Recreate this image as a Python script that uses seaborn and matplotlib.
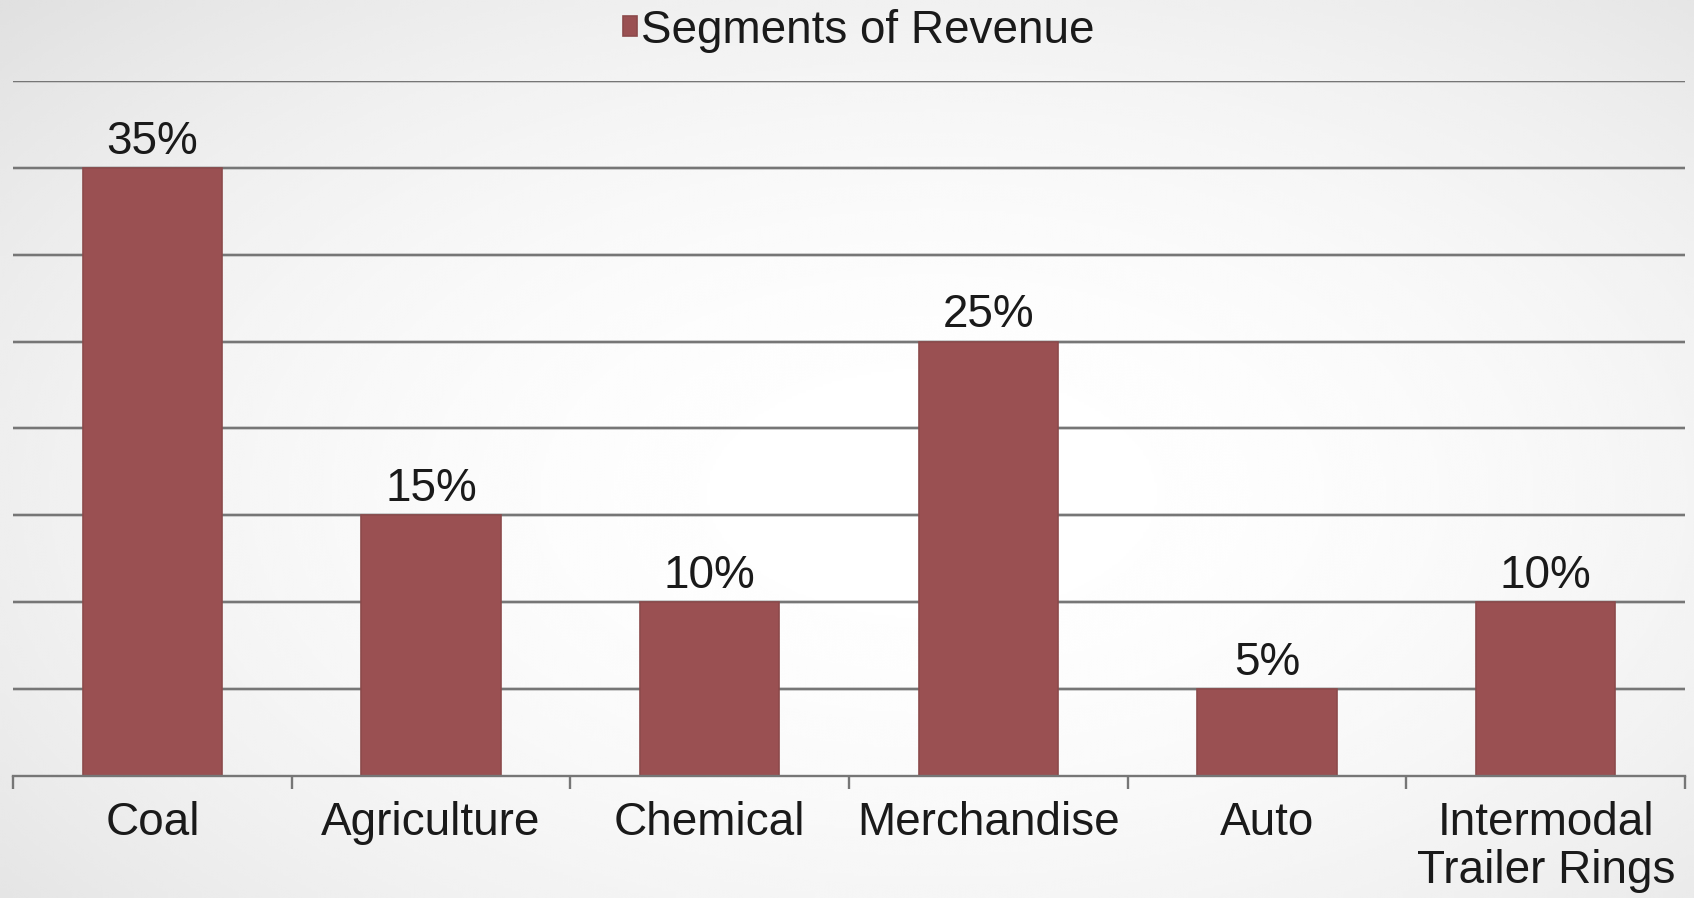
import numpy as np
import pandas as pd
import matplotlib
matplotlib.use("Agg")
import matplotlib.pyplot as plt
import seaborn as sns

categories = ["Coal", "Agriculture", "Chemical", "Merchandise", "Auto",
              "Intermodal\nTrailer Rings"]
revenue_share = [35, 15, 10, 25, 5, 10]
series_name = "Segments of Revenue"
y_ticks = [0, 5, 10, 15, 20, 25, 30, 35, 40]

bar_color = "#9a5052"
grid_color = "#767676"

sns.set_theme(style="white")
plt.rcParams["font.family"] = ["Liberation Sans", "DejaVu Sans"]

df = pd.DataFrame({"segment": categories, "share": revenue_share,
                   "series": series_name})

fig = plt.figure(figsize=(16.94, 8.98), dpi=100)

# soft radial backdrop: white in the middle, light grey towards the edges
bg = fig.add_axes([0, 0, 1, 1], zorder=-10)
yy, xx = np.mgrid[0:1:300j, 0:1:600j]
r = np.sqrt(((xx - 0.55) / 0.75) ** 2 + ((yy - 0.55) / 0.8) ** 2)
shade = 1.0 - 0.12 * np.clip(r, 0, 1) ** 2
bg.imshow(shade, cmap="gray", vmin=0, vmax=1, aspect="auto",
          extent=[0, 1, 0, 1], interpolation="bicubic")
bg.axis("off")

ax = fig.add_axes([0.0077, 0.1359, 0.987, 0.7739])
ax.patch.set_alpha(0)

sns.barplot(data=df, x="segment", y="share", hue="series",
            palette=[bar_color], saturation=1, width=0.5, ax=ax, zorder=3,
            linewidth=1.2, edgecolor="#8c4a4b", legend=True)

ax.set_ylim(0, 40)
ax.set_xlim(-0.5, len(categories) - 0.5)
ax.set_yticks(y_ticks)
ax.set_yticklabels([])
ax.tick_params(axis="y", length=0)
for v in y_ticks[1:]:
    ax.axhline(v, color="#cfcfcf", lw=2.6, zorder=1)
    ax.axhline(v, color=grid_color, lw=1.6, zorder=2)

for s in ["top", "right", "left"]:
    ax.spines[s].set_visible(False)
ax.spines["bottom"].set_color(grid_color)
ax.spines["bottom"].set_linewidth(1.7)
ax.spines["bottom"].set_zorder(4)

# category separators below the baseline
ax.set_xticks(np.arange(-0.5, len(categories)), minor=True)
ax.set_xticks(range(len(categories)))
ax.set_xticklabels(categories, fontsize=33, color="#1a1a1a", linespacing=1.12)
ax.tick_params(axis="x", which="major", bottom=False, length=0, pad=18)
ax.tick_params(axis="x", which="minor", bottom=True, length=9, width=1.7,
               color=grid_color, direction="out")
ax.set_xlabel("")
ax.set_ylabel("")

for i, v in enumerate(revenue_share):
    ax.text(i, v + 0.25, f"{v}%", ha="center", va="bottom", fontsize=33,
            color="#1a1a1a", zorder=5)

leg = ax.legend(loc="lower center", bbox_to_anchor=(0.506, 1.0), frameon=False,
                fontsize=33, handlelength=0.3, handleheight=0.3,
                handletextpad=0.1, borderaxespad=0.22)
for t in leg.get_texts():
    t.set_color("#1a1a1a")

fig.savefig("out.png", dpi=100)
